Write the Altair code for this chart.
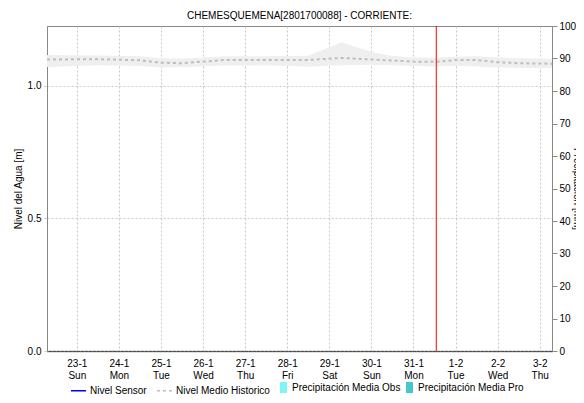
import altair as alt
import pandas as pd

title_text = "CHEMESQUEMENA[2801700088] - CORRIENTE:"

band_times = [
    "2022-01-22T07:00:00Z", "2022-01-23T12:00:00Z", "2022-01-24T12:00:00Z",
    "2022-01-25T00:00:00Z", "2022-01-25T12:00:00Z", "2022-01-26T00:00:00Z",
    "2022-01-26T12:00:00Z", "2022-01-27T12:00:00Z", "2022-01-28T12:00:00Z",
    "2022-01-29T07:00:00Z", "2022-01-30T00:00:00Z", "2022-01-30T12:00:00Z",
    "2022-01-31T00:00:00Z", "2022-01-31T12:00:00Z", "2022-02-01T00:00:00Z",
    "2022-02-01T12:00:00Z", "2022-02-02T00:00:00Z", "2022-02-02T12:00:00Z",
    "2022-02-03T07:00:00Z",
]
band_low = [1.072, 1.078, 1.075, 1.070, 1.072, 1.074, 1.077, 1.078, 1.073,
            1.078, 1.080, 1.078, 1.075, 1.074, 1.076, 1.074, 1.070, 1.068, 1.068]
band_med = [1.100, 1.101, 1.097, 1.088, 1.086, 1.092, 1.098, 1.098, 1.098,
            1.106, 1.100, 1.096, 1.092, 1.091, 1.098, 1.098, 1.090, 1.086, 1.084]
band_high = [1.117, 1.115, 1.112, 1.105, 1.104, 1.108, 1.112, 1.112, 1.114,
             1.165, 1.128, 1.113, 1.108, 1.107, 1.110, 1.112, 1.108, 1.105, 1.103]

precip_times = ["2022-01-23T12:00:00Z", "2022-01-24T12:00:00Z", "2022-01-25T12:00:00Z",
                "2022-01-26T12:00:00Z", "2022-01-27T12:00:00Z", "2022-01-28T12:00:00Z",
                "2022-01-29T12:00:00Z", "2022-01-30T12:00:00Z", "2022-01-31T12:00:00Z",
                "2022-02-01T12:00:00Z", "2022-02-02T12:00:00Z"]
precip_obs = [0, 0, 0, 0, 0, 0, 0, 0, 0, 0, 0]
precip_pro = [0, 0, 0, 0, 0, 0, 0, 0, 0, 0, 0]

now_time = ["2022-01-31T13:00:00Z"]

line_series = ["Nivel Sensor", "Nivel Medio Historico"]
line_colors = ["#0000ff", "#bdbdbd"]
line_dashes = [[1, 0], [3, 3]]
precip_series = ["Precipitación Media Obs", "Precipitación Media Pro"]
precip_colors = ["#7ff5f5", "#45c8c8"]

tick_days = [(2022, 1, d) for d in range(23, 32)] + [(2022, 2, d) for d in range(1, 4)]

FONT = "Liberation Sans"

band_df = pd.DataFrame({"t": band_times, "low": band_low, "med": band_med,
                        "high": band_high, "serie": "Nivel Medio Historico"})
precip_df = pd.concat([
    pd.DataFrame({"t": precip_times, "p": precip_obs, "tipo": precip_series[0]}),
    pd.DataFrame({"t": precip_times, "p": precip_pro, "tipo": precip_series[1]}),
])
now_df = pd.DataFrame({"t": now_time})

x_scale = alt.Scale(
    type="utc",
    domain=[alt.DateTime(year=2022, month=1, date=22, hours=7, utc=True),
            alt.DateTime(year=2022, month=2, date=3, hours=7, utc=True)],
    nice=False, padding=0,
)
x_axis = alt.Axis(
    title=None,
    values=[alt.DateTime(year=y, month=m, date=d, utc=True) for (y, m, d) in tick_days],
    labelExpr="[utcFormat(datum.value, '%-d-%-m'), utcFormat(datum.value, '%a')]",
    labelLineHeight=12, labelFontSize=10, labelFont=FONT, labelColor="#000",
    labelPadding=7,
    ticks=False, grid=True, gridColor="#c8c8c8", gridDash=[2, 2], gridWidth=1,
    domainColor="#000", domainDash=[1, 1], domainWidth=1.5,
)
x_enc = alt.X("t:T", scale=x_scale, axis=x_axis)

y_scale = alt.Scale(domain=[0, 1.2264], nice=False, zero=False)
y_axis = alt.Axis(
    title="Nivel del Agua [m]", titleFont=FONT, titleFontSize=10, titleFontWeight="normal",
    titleColor="#000", titlePadding=4,
    values=[0, 0.5, 1.0], format=".1f", labelFont=FONT, labelFontSize=10, labelColor="#000",
    tickSize=4, tickColor="#aaa", tickDash=[1, 1], labelPadding=2,
    grid=True, gridColor="#c8c8c8", gridDash=[2, 2],
    domainColor="#888",
)

leg_common = dict(orient="none", direction="horizontal", title=None,
                  labelFont=FONT, labelFontSize=10, labelColor="#000", labelOffset=3)

band = alt.Chart(band_df).mark_area(color="#efefef", opacity=1).encode(
    x=x_enc,
    y=alt.Y("low:Q", scale=y_scale, axis=y_axis),
    y2="high:Q",
)

line_legend = alt.Legend(legendX=23, legendY=356, symbolType="stroke", symbolSize=225,
                         symbolStrokeWidth=1.5, columnPadding=7, **leg_common)

median = alt.Chart(band_df).mark_line(strokeWidth=2).encode(
    x=x_enc,
    y=alt.Y("med:Q", scale=y_scale, axis=y_axis),
    stroke=alt.Stroke("serie:N", scale=alt.Scale(domain=line_series, range=line_colors),
                      legend=line_legend),
    strokeDash=alt.StrokeDash("serie:N", scale=alt.Scale(domain=line_series, range=line_dashes),
                              legend=line_legend),
)

now_rule = alt.Chart(now_df).mark_rule(color="#ff0000", strokeWidth=1).encode(x=x_enc)

bars = alt.Chart(precip_df).mark_bar().encode(
    x=x_enc,
    y=alt.Y("p:Q", scale=alt.Scale(domain=[0, 100], nice=False),
            axis=alt.Axis(orient="right", title="Precipitación [mm]", titleFont=FONT,
                          titleFontSize=10, titleFontWeight="normal", titleColor="#000",
                          titlePadding=-4, values=list(range(0, 101, 10)),
                          labelFont=FONT, labelFontSize=10, labelColor="#000",
                          tickSize=5, tickColor="#888", labelPadding=2,
                          grid=False, domainColor="#888")),
    fill=alt.Fill(
        "tipo:N",
        scale=alt.Scale(domain=precip_series, range=precip_colors),
        legend=alt.Legend(legendX=231, legendY=356,
                          symbolType="M-0.64,-1H0.64V1H-0.64Z", symbolSize=121,
                          symbolStrokeWidth=0, columnPadding=3, **leg_common),
    ),
)

left = alt.layer(band, median, now_rule)

chart = alt.layer(left, bars).resolve_scale(y="independent").properties(
    width=505, height=325,
    title=alt.TitleParams(title_text, font=FONT, fontSize=10, fontWeight="normal",
                          color="#000", anchor="middle", offset=0),
    autosize=alt.AutoSizeParams(type="none"),
    padding={"left": 39, "top": 18, "right": 24, "bottom": 44},
).configure_view(stroke="#888", strokeWidth=1)

chart.save("out.html", embed_options={"renderer": "svg", "actions": False})
